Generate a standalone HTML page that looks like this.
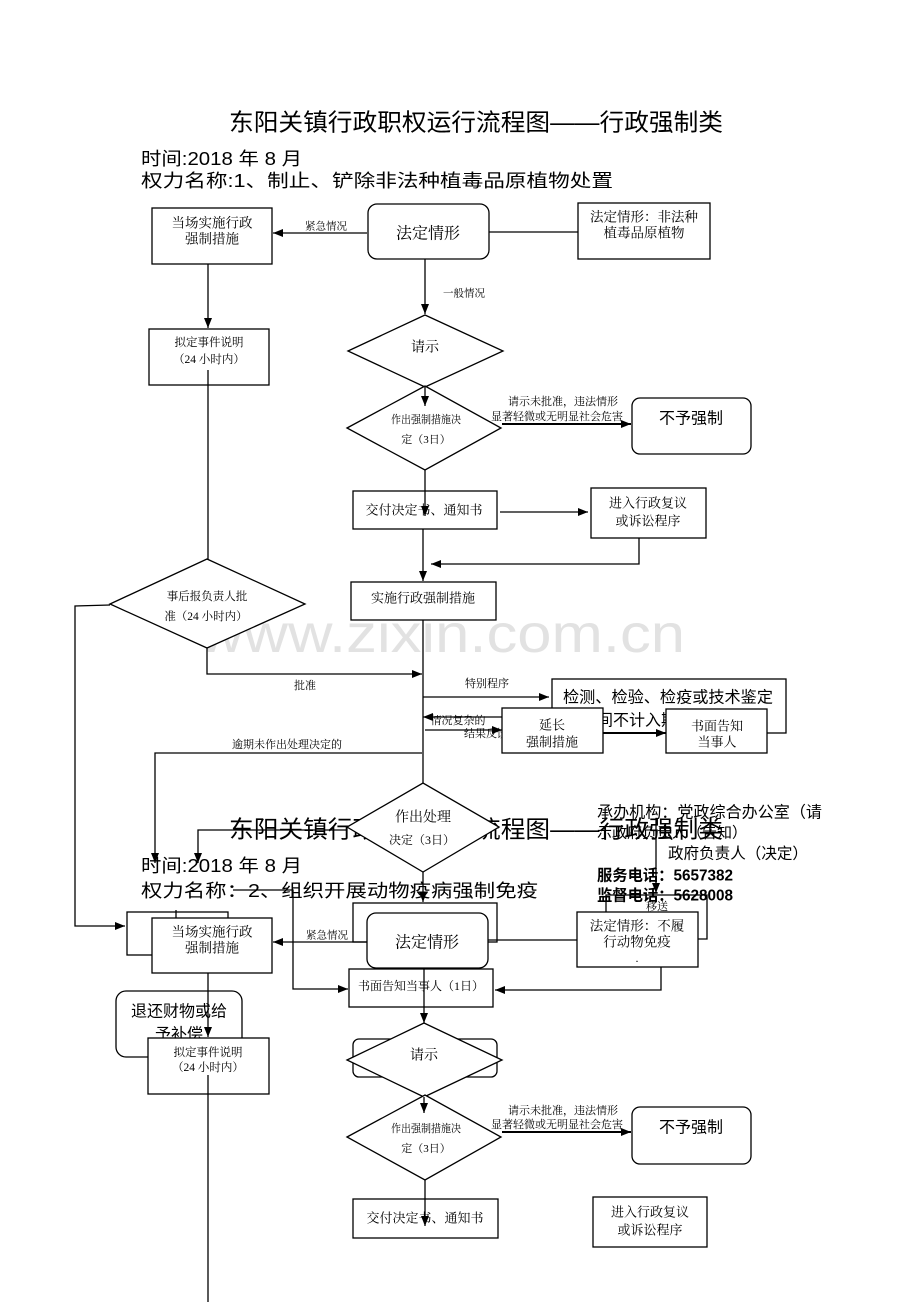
<!DOCTYPE html>
<html><head><meta charset="utf-8">
<style>
html,body{margin:0;padding:0;background:#fff;}
svg{display:block;}
.b{fill:#fff;stroke:#000;stroke-width:1.3;}
.l{fill:none;stroke:#000;stroke-width:1.3;}
.t{stroke:#000;stroke-width:2;fill:none;}
.s{font-family:"Liberation Serif","Noto Serif CJK SC",serif;fill:#000;}
.g{font-family:"Liberation Sans","Noto Sans CJK SC",sans-serif;fill:#000;}
.m{text-anchor:middle;dominant-baseline:central;}
.c{dominant-baseline:central;}
</style></head>
<body>
<svg width="920" height="1302" viewBox="0 0 920 1302" xmlns="http://www.w3.org/2000/svg">
<defs>
<marker id="ah" viewBox="0 0 10 8" refX="10" refY="4" markerWidth="10" markerHeight="8" orient="auto" markerUnits="userSpaceOnUse"><path d="M0,0 L10,4 L0,8 z" fill="#000"/></marker>
</defs>
<rect width="920" height="1302" fill="#fff"/>

<!-- watermark -->
<text x="442" y="652" font-size="54" fill="#e2e2e2" text-anchor="middle" textLength="486" lengthAdjust="spacingAndGlyphs" style="font-family:'Liberation Sans',sans-serif">www.zixin.com.cn</text>

<!-- Header 1 -->
<text class="g c" x="229" y="123" font-size="24" textLength="494" lengthAdjust="spacingAndGlyphs">东阳关镇行政职权运行流程图——行政强制类</text>
<text class="g c" x="141" y="159" font-size="18" textLength="161" lengthAdjust="spacingAndGlyphs">时间:2018 年 8 月</text>
<text class="g c" x="141" y="181" font-size="18" textLength="472" lengthAdjust="spacingAndGlyphs">权力名称:1、制止、铲除非法种植毒品原植物处置</text>

<!-- Top boxes -->
<rect class="b" x="152" y="208" width="120" height="56"/>
<text class="s m" x="212" y="223" font-size="13.5">当场实施行政</text>
<text class="s m" x="212" y="239" font-size="13.5">强制措施</text>

<rect class="b" x="368" y="204" width="121" height="55" rx="9"/>
<text class="s m" x="428" y="234" font-size="16">法定情形</text>

<rect class="b" x="578" y="203" width="132" height="56"/>
<text class="s m" x="644" y="217" font-size="13.5">法定情形：非法种</text>
<text class="s m" x="644" y="233" font-size="13.5">植毒品原植物</text>

<rect class="b" x="149" y="329" width="120" height="56"/>
<text class="s m" x="209" y="343" font-size="11.5">拟定事件说明</text>
<text class="s m" x="209" y="360" font-size="11.5">（24 小时内）</text>

<polygon class="b" points="348,351 425,315 503,351 425,387"/>
<text class="s m" x="425" y="348" font-size="14">请示</text>

<polygon class="b" points="347,428 425,386 501,428 425,470"/>
<text class="s m" x="426" y="420" font-size="11" textLength="70" lengthAdjust="spacingAndGlyphs">作出强制措施决</text>
<text class="s m" x="426" y="440" font-size="11">定（3日）</text>

<rect class="b" x="632" y="398" width="119" height="56" rx="8"/>
<text class="g m" x="691" y="419" font-size="16">不予强制</text>

<rect class="b" x="353" y="491" width="144" height="38"/>
<text class="s m" x="424" y="510" font-size="13">交付决定书、通知书</text>

<rect class="b" x="591" y="488" width="115" height="50"/>
<text class="s m" x="648" y="503" font-size="13">进入行政复议</text>
<text class="s m" x="648" y="521" font-size="13">或诉讼程序</text>

<rect class="b" x="351" y="582" width="145" height="38"/>
<text class="s m" x="423" y="598" font-size="13">实施行政强制措施</text>

<polygon class="b" points="110,604 207,559 305,604 207,648"/>
<text class="s m" x="207" y="597" font-size="11.5">事后报负责人批</text>
<text class="s m" x="206" y="617" font-size="11.5">准（24 小时内）</text>

<!-- 检测 box -->
<rect class="b" x="552" y="679" width="234" height="54"/>
<text class="g c" x="563" y="698" font-size="16" textLength="210" lengthAdjust="spacingAndGlyphs">检测、检验、检疫或技术鉴定</text>
<text class="g c" x="581" y="721" font-size="16">期间不计入期限</text>

<!-- arrows under 延长 box -->
<line class="l" x1="502" y1="717" x2="423" y2="717" marker-end="url(#ah)"/>
<line class="l" x1="425" y1="730" x2="502" y2="730" marker-end="url(#ah)"/>
<text class="s m" x="458" y="721" font-size="11">情况复杂的</text>
<text class="s m" x="486" y="734" font-size="11">结果反馈</text>

<rect class="b" x="502" y="708" width="101" height="45"/>
<text class="s m" x="552" y="725" font-size="13">延长</text>
<text class="s m" x="552" y="742" font-size="13">强制措施</text>

<rect class="b" x="666" y="709" width="101" height="44"/>
<text class="s m" x="717" y="726" font-size="13">书面告知</text>
<text class="s m" x="717" y="742" font-size="13">当事人</text>

<!-- Header 2 (overlapping page) -->
<text class="g c" x="229" y="830" font-size="24" textLength="494" lengthAdjust="spacingAndGlyphs">东阳关镇行政职权运行流程图——行政强制类</text>
<text class="g c" x="141" y="866" font-size="18" textLength="161" lengthAdjust="spacingAndGlyphs">时间:2018 年 8 月</text>
<text class="g c" x="141" y="891" font-size="18" textLength="397" lengthAdjust="spacingAndGlyphs">权力名称：2、组织开展动物疫病强制免疫</text>

<!-- right info block -->
<text class="g c" x="597" y="813" font-size="16" textLength="225" lengthAdjust="spacingAndGlyphs">承办机构：党政综合办公室（请</text>
<text class="g c" x="597" y="833" font-size="15" fill="#333" textLength="150" lengthAdjust="spacingAndGlyphs">示政府负责人（告知）</text>
<text class="g c" x="668" y="854" font-size="15.5" textLength="140" lengthAdjust="spacingAndGlyphs">政府负责人（决定）</text>
<text class="g c" x="597" y="876" font-size="15.5" font-weight="bold" textLength="136" lengthAdjust="spacingAndGlyphs">服务电话：5657382</text>
<text class="g c" x="597" y="896" font-size="15.5" font-weight="bold" textLength="136" lengthAdjust="spacingAndGlyphs">监督电话：5628008</text>

<!-- line across title 2 & arrow down -->
<polyline class="l" points="347,830 198,830 198,863" marker-end="url(#ah)"/>

<!-- diamond 作出处理 -->
<polygon class="b" points="347,827 423,783 499,827 423,872"/>
<text class="s m" x="423" y="818" font-size="14">作出处理</text>
<text class="s m" x="422" y="840" font-size="12">决定（3日）</text>

<!-- right side connectors near 移送 -->
<line class="l" x1="656" y1="818" x2="656" y2="893" marker-end="url(#ah)"/>
<polyline class="l" points="606,912 606,895 707,895 707,939 698,939"/>
<text class="s m" x="657" y="907" font-size="11">移送</text>

<rect class="b" x="577" y="912" width="121" height="55"/>
<text class="s m" x="637" y="926" font-size="13.5">法定情形：不履</text>
<text class="s m" x="637" y="942" font-size="13.5">行动物免疫</text>
<text class="s m" x="637" y="958" font-size="12">.</text>

<!-- 法定情形 2 -->
<rect class="l" x="353" y="903" width="144" height="39"/>
<rect class="b" x="367" y="913" width="121" height="55" rx="9"/>
<text class="s m" x="427" y="943" font-size="16">法定情形</text>

<!-- left boxes 2 -->
<rect class="l" x="127" y="912" width="101" height="43"/>
<line class="l" x1="176" y1="910" x2="176" y2="918"/>
<rect class="b" x="152" y="918" width="120" height="55"/>
<text class="s m" x="212" y="932" font-size="13.5">当场实施行政</text>
<text class="s m" x="212" y="948" font-size="13.5">强制措施</text>

<rect class="b" x="116" y="991" width="126" height="66" rx="10"/>
<text class="g m" x="179" y="1012" font-size="16">退还财物或给</text>
<text class="g m" x="179" y="1035" font-size="16">予补偿</text>
<line class="l" x1="208" y1="973" x2="208" y2="1037" marker-end="url(#ah)"/>

<rect class="b" x="148" y="1038" width="121" height="56"/>
<text class="s m" x="208" y="1053" font-size="11.5">拟定事件说明</text>
<text class="s m" x="208" y="1068" font-size="11.5">（24 小时内）</text>

<rect class="b" x="349" y="969" width="144" height="38"/>
<text class="s m" x="421" y="986" font-size="12">书面告知当事人（1日）</text>

<rect class="l" x="353" y="1039" width="144" height="38" rx="6"/>
<polygon class="b" points="347,1060 424,1023 502,1060 424,1097"/>
<text class="s m" x="424" y="1056" font-size="14">请示</text>

<polygon class="b" points="347,1137 425,1095 501,1137 425,1180"/>
<text class="s m" x="426" y="1129" font-size="11" textLength="70" lengthAdjust="spacingAndGlyphs">作出强制措施决</text>
<text class="s m" x="426" y="1149" font-size="11">定（3日）</text>

<rect class="b" x="632" y="1107" width="119" height="57" rx="8"/>
<text class="g m" x="691" y="1128" font-size="16">不予强制</text>

<rect class="b" x="353" y="1199" width="145" height="39"/>
<text class="s m" x="425" y="1218" font-size="13">交付决定书、通知书</text>

<rect class="b" x="593" y="1197" width="114" height="50"/>
<text class="s m" x="650" y="1212" font-size="13">进入行政复议</text>
<text class="s m" x="650" y="1230" font-size="13">或诉讼程序</text>

<!-- connectors top section -->
<line class="l" x1="367" y1="233" x2="273" y2="233" marker-end="url(#ah)"/>
<text class="s m" x="326" y="227" font-size="10.5">紧急情况</text>
<line class="l" x1="489" y1="232" x2="578" y2="232"/>
<line class="l" x1="425" y1="259" x2="425" y2="314" marker-end="url(#ah)"/>
<text class="s m" x="464" y="294" font-size="10.5">一般情况</text>
<line class="l" x1="208" y1="264" x2="208" y2="328" marker-end="url(#ah)"/>
<line class="l" x1="425" y1="387" x2="425" y2="406" marker-end="url(#ah)"/>
<line class="t" x1="502" y1="424" x2="631" y2="424" marker-end="url(#ah)"/>
<text class="s m" x="563" y="402" font-size="11">请示未批准，违法情形</text>
<text class="s m" x="557" y="417" font-size="11">显著轻微或无明显社会危害</text>
<line class="l" x1="425" y1="470" x2="425" y2="516" marker-end="url(#ah)"/>
<line class="l" x1="500" y1="512" x2="588" y2="512" marker-end="url(#ah)"/>
<polyline class="l" points="639,538 639,564 431,564" marker-end="url(#ah)"/>
<line class="l" x1="423" y1="529" x2="423" y2="581" marker-end="url(#ah)"/>
<line class="l" x1="208" y1="370" x2="208" y2="559"/>
<polyline class="l" points="207,648 207,674 422,674" marker-end="url(#ah)"/>
<text class="s m" x="305" y="686" font-size="11">批准</text>
<polyline class="l" points="110,605 75,606 75,926 125,926" marker-end="url(#ah)"/>
<line class="l" x1="423" y1="620" x2="423" y2="783"/>
<line class="l" x1="423" y1="697" x2="549" y2="697" marker-end="url(#ah)"/>
<text class="s m" x="487" y="684" font-size="11">特别程序</text>
<line class="t" x1="603" y1="733" x2="666" y2="733" marker-end="url(#ah)"/>
<polyline class="l" points="422,753 155,753 155,863" marker-end="url(#ah)"/>
<text class="s m" x="287" y="745" font-size="11">逾期未作出处理决定的</text>
<line class="l" x1="423" y1="872" x2="423" y2="902" marker-end="url(#ah)"/>

<!-- connectors second section -->
<polyline class="l" points="233,890 293,890 293,989 348,989" marker-end="url(#ah)"/>
<polyline class="l" points="661,967 661,990 495,990" marker-end="url(#ah)"/>
<line class="l" x1="488" y1="940" x2="577" y2="940"/>
<line class="l" x1="367" y1="942" x2="273" y2="942" marker-end="url(#ah)"/>
<text class="s m" x="327" y="936" font-size="10.5">紧急情况</text>
<line class="l" x1="424" y1="968" x2="424" y2="1023" marker-end="url(#ah)"/>
<line class="l" x1="208" y1="1075" x2="208" y2="1302"/>
<line class="l" x1="424" y1="1097" x2="424" y2="1113" marker-end="url(#ah)"/>
<line class="t" x1="502" y1="1132" x2="631" y2="1132" marker-end="url(#ah)"/>
<text class="s m" x="563" y="1111" font-size="11">请示未批准，违法情形</text>
<text class="s m" x="557" y="1125" font-size="11">显著轻微或无明显社会危害</text>
<line class="l" x1="425" y1="1180" x2="425" y2="1226" marker-end="url(#ah)"/>
</svg>
</body></html>
